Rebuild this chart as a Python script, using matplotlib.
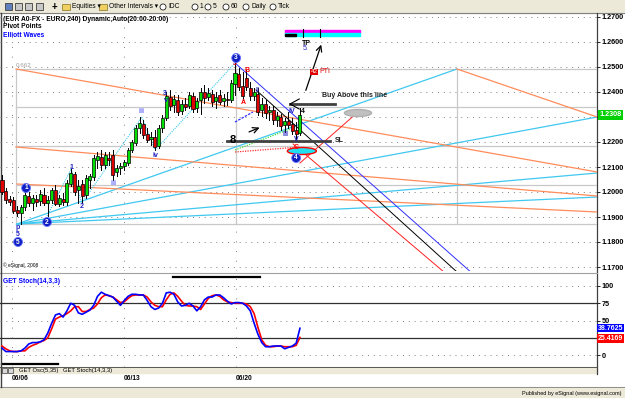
#!/usr/bin/env python3
"""
EUR A0-FX 240 min chart with pivot fans, Elliott wave labels and GET Stoch panel.
Menjalankan: python plot.py  -> out.png
"""
import matplotlib
matplotlib.use("Agg")
import matplotlib.pyplot as plt
from matplotlib.patches import Ellipse, Rectangle, Circle
from matplotlib.transforms import blended_transform_factory

plt.rcParams["font.family"] = ["Liberation Sans", "DejaVu Sans"]

W, H = 625, 398

# ---------------- data ----------------
opens = [1.2048, 1.2004, 1.1972, 1.1968, 1.1928, 1.1916, 1.1940, 1.1984, 1.1956, 1.1972,
         1.1964, 1.1988, 1.1956, 1.1968, 1.2008, 1.1952, 1.1972, 1.1960, 1.2032, 1.2072,
         1.2008, 1.2032, 1.1988, 1.2048, 1.2060, 1.2128, 1.2140, 1.2108, 1.2136, 1.2148,
         1.2080, 1.2096, 1.2104, 1.2116, 1.2168, 1.2196, 1.2256, 1.2272, 1.2232, 1.2212,
         1.2220, 1.2184, 1.2256, 1.2296, 1.2380, 1.2348, 1.2368, 1.2324, 1.2352, 1.2344,
         1.2384, 1.2336, 1.2368, 1.2400, 1.2380, 1.2392, 1.2364, 1.2388, 1.2364, 1.2372,
         1.2368, 1.2432, 1.2472, 1.2424, 1.2456, 1.2416, 1.2384, 1.2392, 1.2328, 1.2352,
         1.2320, 1.2328, 1.2288, 1.2300, 1.2268, 1.2284, 1.2272, 1.2248, 1.2236]
highs = [1.2068, 1.2016, 1.1984, 1.1980, 1.1944, 1.1948, 1.2008, 1.2000, 1.1988, 1.1988,
         1.2008, 1.2016, 1.1984, 1.2016, 1.2028, 1.1988, 1.1996, 1.2048, 1.2092, 1.2080,
         1.2048, 1.2048, 1.2068, 1.2072, 1.2148, 1.2160, 1.2168, 1.2160, 1.2160, 1.2168,
         1.2108, 1.2116, 1.2128, 1.2176, 1.2208, 1.2268, 1.2300, 1.2288, 1.2256, 1.2240,
         1.2248, 1.2268, 1.2308, 1.2400, 1.2408, 1.2388, 1.2388, 1.2368, 1.2376, 1.2400,
         1.2396, 1.2376, 1.2416, 1.2428, 1.2416, 1.2408, 1.2400, 1.2408, 1.2392, 1.2400,
         1.2448, 1.2516, 1.2496, 1.2480, 1.2488, 1.2440, 1.2416, 1.2416, 1.2376, 1.2368,
         1.2344, 1.2344, 1.2320, 1.2312, 1.2296, 1.2320, 1.2296, 1.2280, 1.2336]
lows = [1.1992, 1.1956, 1.1948, 1.1916, 1.1904, 1.1872, 1.1928, 1.1944, 1.1928, 1.1944,
        1.1948, 1.1948, 1.1904, 1.1956, 1.1948, 1.1944, 1.1948, 1.1948, 1.2024, 1.1988,
        1.1956, 1.1956, 1.1976, 1.2016, 1.2048, 1.2096, 1.2088, 1.2096, 1.2108, 1.2048,
        1.2064, 1.2072, 1.2088, 1.2108, 1.2160, 1.2188, 1.2236, 1.2216, 1.2200, 1.2188,
        1.2168, 1.2176, 1.2240, 1.2288, 1.2328, 1.2320, 1.2308, 1.2312, 1.2328, 1.2336,
        1.2320, 1.2320, 1.2312, 1.2356, 1.2368, 1.2344, 1.2336, 1.2352, 1.2344, 1.2348,
        1.2360, 1.2388, 1.2408, 1.2368, 1.2408, 1.2368, 1.2368, 1.2308, 1.2304, 1.2296,
        1.2288, 1.2272, 1.2264, 1.2248, 1.2240, 1.2256, 1.2232, 1.2208, 1.2228]
closes = [1.2000, 1.1968, 1.1960, 1.1924, 1.1916, 1.1940, 1.1988, 1.1956, 1.1976, 1.1960,
          1.1992, 1.1956, 1.1968, 1.2008, 1.1952, 1.1976, 1.1960, 1.2036, 1.2076, 1.2000,
          1.2024, 1.1984, 1.2056, 1.2064, 1.2136, 1.2144, 1.2108, 1.2148, 1.2128, 1.2068,
          1.2096, 1.2104, 1.2120, 1.2168, 1.2200, 1.2256, 1.2276, 1.2228, 1.2208, 1.2220,
          1.2180, 1.2256, 1.2296, 1.2384, 1.2344, 1.2372, 1.2320, 1.2352, 1.2340, 1.2388,
          1.2332, 1.2364, 1.2400, 1.2376, 1.2396, 1.2360, 1.2380, 1.2360, 1.2376, 1.2368,
          1.2436, 1.2476, 1.2420, 1.2384, 1.2420, 1.2384, 1.2400, 1.2320, 1.2352, 1.2316,
          1.2328, 1.2288, 1.2304, 1.2264, 1.2284, 1.2268, 1.2244, 1.2232, 1.2308]

stoch_k = [10, 5, 5, 5, 5, 6, 10, 16, 18, 18, 19, 22, 32, 46, 58, 60, 55, 64, 75, 72,
           61, 59, 62, 65, 72, 85, 91, 88, 86, 84, 78, 72, 79, 85, 88, 88, 87, 87, 79, 70,
           66, 68, 75, 90, 91, 88, 77, 71, 72, 75, 71, 64, 70, 80, 84, 84, 87, 87, 83, 78,
           74, 76, 76, 75, 71, 64, 46, 30, 18, 12, 12, 13, 13, 13, 9, 11, 13, 17, 38.76]
stoch_d = [13, 9, 6, 5, 5, 6, 6, 11, 14, 16, 19, 21, 25, 38, 52, 55, 57, 60, 64, 70,
           70, 63, 63, 66, 68, 74, 83, 87, 86, 84, 80, 76, 77, 82, 86, 87, 87, 87, 84, 77,
           72, 70, 70, 80, 88, 90, 85, 78, 72, 71, 71, 70, 66, 74, 82, 86, 87, 85, 80, 77,
           76, 75, 75, 75, 74, 70, 60, 40, 22, 14, 12, 12, 13, 13, 12, 12, 12, 14, 25.42]

price_ticks = [1.27, 1.26, 1.25, 1.24, 1.23, 1.22, 1.21, 1.20, 1.19, 1.18, 1.17]
last_price = 1.2308
stoch_last = [38.7625, 25.4169]
pivot_levels = [1.2492, 1.2340, 1.2184, 1.2028, 1.1872]
pivot_bars = [3.66, 61.3, 119.1]
date_bars = [2.6, 32.0, 61.3]
date_labels = ["06/06", "06/13", "06/20"]

# pivot fan lines: (bar0, price0, bar1, price1)
cyan_lines = [(3.93, 1.1872, 119.1, 1.2492), (3.93, 1.1872, 155.8, 1.2300),
              (3.93, 1.1872, 155.8, 1.2076), (3.93, 1.1872, 155.8, 1.1980)]
orange_lines = [(3.66, 1.2492, 155.8, 1.2080), (119.1, 1.2492, 155.8, 1.2300),
                (3.66, 1.2180, 155.8, 1.1984), (3.93, 1.2032, 155.8, 1.1920)]
channel_lines = [("#3030FF", 61.0, 1.2516, 123.0, 1.1676),
                 ("#000000", 66.5, 1.2408, 119.4, 1.1676),
                 ("#FF2020", 76.2, 1.2192, 116.0, 1.1676),
                 ("#FF2020", 78.0, 1.2116, 92.9, 1.2316)]

# wave labels: (text, color, bar, price)
wave_text = [("p", "#2020C0", 4.2, 1.1858), ("5", "#2020C0", 4.2, 1.1830),
             ("1", "#2020C0", 18.1, 1.2096), ("2", "#2020C0", 20.9, 1.1940),
             ("iii", "#6060FF", 29.1, 1.2034), ("iv", "#2020C0", 40.1, 1.2146),
             ("iii", "#6060FF", 36.6, 1.2320), ("3", "#2020C0", 42.7, 1.2392),
             ("v", "#2020C0", 43.0, 1.2366), ("5", "#FF0000", 61.0, 1.2512),
             ("A", "#FF0000", 63.1, 1.2356), ("B", "#FF0000", 64.1, 1.2488),
             ("II", "#2020C0", 66.8, 1.2408), ("III", "#2020C0", 74.1, 1.2228),
             ("IV", "#2020C0", 75.9, 1.2322), ("V", "#2020C0", 77.0, 1.2210),
             ("C", "#FF0000", 77.0, 1.2178), ("4", "#000000", 78.8, 1.2322)]
wave_circles = [("1", 6.3, 1.2016), ("2", 11.8, 1.1880), ("3", 61.3, 1.2536),
                ("4", 77.0, 1.2136), ("5", 4.2, 1.1800)]

# ---------------- layout helpers ----------------
def rect(x0, y0, x1, y1):
    return [x0 / W, 1 - y1 / H, (x1 - x0) / W, (y1 - y0) / H]


BAR_PX, BAR_X0 = 3.82, 2.0
XLIM = ((0 - BAR_X0) / BAR_PX, (597 - BAR_X0) / BAR_PX)

fig = plt.figure(figsize=(W / 100, H / 100), dpi=100)
fig.patch.set_facecolor("white")

# chrome (toolbar, tabs, status bar) in pixel coordinates
bg = fig.add_axes([0, 0, 1, 1])
bg.set_xlim(0, W)
bg.set_ylim(H, 0)
bg.axis("off")
bg.add_patch(Rectangle((0, 0), W, 13, color="#ECE9D8", zorder=0))
bg.plot([0, W], [13, 13], color="#808080", lw=0.8)
for xi, fc in zip([5, 15, 25, 36], ["#6080C0", "#C8C8C8", "#C8C8C8", "#C8C8C8"]):
    bg.add_patch(Rectangle((xi, 3), 7, 7, fc=fc, ec="#404040", lw=0.6))
bg.text(54, 7, "+", fontsize=7, weight="bold", va="center", ha="center")
tb_items = [(66, "Equities \u25BE"), (103, "Other Intervals \u25BE")]
for xi, label in tb_items:
    bg.add_patch(Rectangle((xi - 4, 4), 8, 6, fc="#F0D060", ec="#807020", lw=0.5))
    bg.text(xi + 6, 7, label, fontsize=4.8, va="center")
for xi, label in [(163, "IDC"), (195, "1"), (208, "5"), (226, "60"), (246, "Daily"), (273, "Tick")]:
    bg.add_patch(Circle((xi, 7), 3, fc="white", ec="#202020", lw=0.6))
    bg.text(xi + 5, 7, label, fontsize=4.8, va="center")
bg.add_patch(Rectangle((0, 367), 597, 6, color="#ECE9D8", zorder=0))
bg.plot([0, 597], [367, 367], color="#404040", lw=0.6)
bg.plot([2, 58], [364, 364], color="black", lw=1.6)
bg.plot([173, 260], [277, 277], color="black", lw=1.6)
for xi in [2, 8]:
    bg.add_patch(Rectangle((xi, 367.5), 5, 5, fc="#D8D8D8", ec="#404040", lw=0.5))
bg.text(19, 370.5, "GET Osc(5,35)", fontsize=4.2, va="center")
bg.text(63, 370.5, "GET Stoch(14,3,3)", fontsize=4.2, va="center")
bg.add_patch(Rectangle((0, 387), W, 11, color="#ECE9D8", zorder=0))
bg.plot([0, W], [387, 387], color="#808080", lw=0.6)
bg.text(621, 393, "Published by eSignal (www.esignal.com)", fontsize=4, ha="right", va="center")
bg.plot([597, 597], [13, 374], color="#404040", lw=0.9)
bg.plot([0, 597], [273, 273], color="#A0A0A0", lw=0.8)
bg.plot([0.5, 0.5], [13, 387], color="#404040", lw=1)

# ---------------- price panel ----------------
ax = fig.add_axes(rect(0, 13, 597, 271))
ax.set_xlim(*XLIM)
ax.set_ylim(1.2768 - 0.0004 * 271, 1.2768 - 0.0004 * 13)
ax.patch.set_alpha(0)
for s in ax.spines.values():
    s.set_visible(False)
ax.set_xticks([])
ax.yaxis.tick_right()
ax.set_yticks(price_ticks)
# the 1.2300 label is covered by the last-price box
ax.set_yticklabels(["" if abs(v - last_price) < 0.002 else f"{v:.4f}" for v in price_ticks],
                   fontsize=5.2, weight="bold")
ax.tick_params(axis="y", length=2, pad=1.5, width=0.6)

for p in price_ticks:
    ax.axhline(p, color="#808080", lw=0.7, ls=(0, (1, 5)), zorder=1)
for b in date_bars:
    ax.axvline(b, color="#808080", lw=0.7, ls=(0, (1, 9)), zorder=1)
for p in pivot_levels:
    ax.plot([pivot_bars[0], XLIM[1]], [p, p], color="#C8C8C8", lw=0.9, zorder=1)
for b in pivot_bars:
    ax.plot([b, b], [pivot_levels[-1], pivot_levels[0]], color="#C8C8C8", lw=0.9, zorder=1)
ax.text(pivot_bars[0], pivot_levels[0] + 0.0006, "0.662", fontsize=4.5, color="#A0A0A0")

for b0, p0, b1, p1 in cyan_lines:
    ax.plot([b0, b1], [p0, p1], color="#40C8F0", lw=0.9, zorder=2)
for b0, p0, b1, p1 in orange_lines:
    ax.plot([b0, b1], [p0, p1], color="#FF8C5A", lw=0.9, zorder=2)
for c, b0, p0, b1, p1 in channel_lines:
    ax.plot([b0, b1], [p0, p1], color=c, lw=0.7, zorder=2)

# Elliott wave dotted connectors
ax.plot([11.8, 18.1, 20.9, 36.6, 40.1, 61.0], [1.1904, 1.2092, 1.1956, 1.2300, 1.2168, 1.2516],
        color="#40C8F0", lw=0.8, ls=(0, (1, 1)), zorder=2)
ax.plot([61.0, 75.4], [1.2168, 1.2252], color="#40E040", lw=0.9, ls=(0, (1, 1)), zorder=2)
ax.plot([61.0, 78.0], [1.2160, 1.2180], color="#FF3030", lw=0.9, ls=(0, (1, 1)), zorder=2)
ax.plot([61.0, 65.7], [1.2280, 1.2320], color="#3030FF", lw=0.9, ls=(0, (2, 1)), zorder=2)

# candles
for i, (o, h, l, c) in enumerate(zip(opens, highs, lows, closes)):
    up = c >= o
    ax.plot([i, i], [l, h], color="black", lw=0.7, zorder=3)
    ax.add_patch(Rectangle((i - 0.4, min(o, c)), 0.8, max(abs(c - o), 0.0002),
                           fc="#00E000" if up else "#E00000", ec="black", lw=0.5, zorder=4))

# wave markers
for t, c, b, p in wave_text:
    ax.text(b, p, t, color=c, fontsize=5, ha="center", va="center", weight="bold", zorder=6)
for t, b, p in wave_circles:
    ax.add_patch(Ellipse((b, p), 2.3, 0.0036, fc="#1020C0", ec="#6070FF", lw=0.6, zorder=6))
    ax.text(b, p, t, color="white", fontsize=4.8, ha="center", va="center", weight="bold", zorder=7)

# trade annotations
ax.plot([75.4, 87.2], [1.2352, 1.2352], color="#404040", lw=2, zorder=5)
ax.plot([77.8, 75.4, 77.8], [1.2372, 1.2352, 1.2332], color="black", lw=0.8, zorder=5)
ax.text(83.8, 1.2378, "Buy Above this line", fontsize=5, weight="bold", color="#202020", zorder=6)
ax.plot([58.9, 85.9], [1.2204, 1.2204], color="#404040", lw=2, zorder=5)
ax.text(87.2, 1.2206, "SL", fontsize=5, weight="bold", color="#202020", va="center", zorder=6)
ax.text(60.4, 1.2208, "8", fontsize=8, weight="bold", color="black", ha="center", va="center", zorder=6)
ax.annotate("", xy=(68.1, 1.2262), xytext=(64.0, 1.2236),
            arrowprops=dict(arrowstyle="->", lw=0.9, color="black"), zorder=6)
ax.annotate("", xy=(83.8, 1.2600), xytext=(79.3, 1.2396),
            arrowprops=dict(arrowstyle="->", lw=0.9, color="black"), zorder=6)
ax.text(79.6, 1.2594, "TP", fontsize=5, weight="bold", ha="center", va="center", zorder=6)
ax.text(79.6, 1.2572, "5.", fontsize=5, color="#2020C0", ha="center", va="center", zorder=6)
ax.text(81.7, 1.2480, "42", fontsize=4.5, color="white", ha="center", va="center",
        bbox=dict(boxstyle="square,pad=0.1", fc="#E00000", ec="none"), zorder=6)
ax.text(83.0, 1.2480, "PTI", fontsize=5, color="#E00000", va="center", zorder=6)

ax.add_patch(Rectangle((74.1, 1.2636), 19.6, 0.0012, color="#FF00FF", zorder=5))
ax.add_patch(Rectangle((74.1, 1.2624), 19.6, 0.0012, color="#00FFFF", zorder=5))
ax.add_patch(Rectangle((74.1, 1.2626), 2.9, 0.0008, color="black", zorder=6))
for b in [78.8, 83.2]:
    ax.plot([b, b], [1.2620, 1.2652], color="black", lw=0.8, zorder=6)

ax.add_patch(Ellipse((93.2, 1.2316), 7.1, 0.0028, fc="#C0C0C0", ec="#B0B0B0", zorder=5))
ax.add_patch(Ellipse((78.5, 1.2164), 7.6, 0.0028, fc="#20E0F0", ec="#FF0000", lw=1, zorder=5))

tr = blended_transform_factory(ax.transAxes, ax.transData)
ax.text(1.004, last_price, f"{last_price:.4f}", transform=tr, fontsize=5.2, weight="bold",
        color="white", va="center", bbox=dict(boxstyle="square,pad=0.15", fc="#00D000", ec="none"))

ax.text(0.005, 0.99, "(EUR A0-FX - EURO,240) Dynamic,Auto(20:00-20:00)", transform=ax.transAxes,
        fontsize=4.8, weight="bold", va="top")
ax.text(0.005, 0.96, "Pivot Points", transform=ax.transAxes, fontsize=4.8, weight="bold", va="top")
ax.text(0.005, 0.925, "Elliott Waves", transform=ax.transAxes, fontsize=4.8, weight="bold",
        color="#0000FF", va="top")
ax.text(0.005, 0.01, "\u00a9 eSignal, 2008", transform=ax.transAxes, fontsize=3.5, va="bottom")

# ---------------- stoch panel ----------------
sx = fig.add_axes(rect(0, 275, 597, 367))
sx.set_xlim(*XLIM)
sx.set_ylim((355 - 367) / 0.69, (355 - 275) / 0.69)
sx.patch.set_alpha(0)
for s in sx.spines.values():
    s.set_visible(False)
sx.set_xticks([])
sx.yaxis.tick_right()
sx.set_yticks([100, 75, 50, 0])
sx.set_yticklabels(["100", "75", "50", "0"], fontsize=5.2, weight="bold")
sx.tick_params(axis="y", length=2, pad=1.5, width=0.6)
for v in [100, 50, 0]:
    sx.axhline(v, color="#808080", lw=0.7, ls=(0, (1, 5)))
for v in [75, 25]:
    sx.axhline(v, color="#303030", lw=0.9)
for b in date_bars:
    sx.axvline(b, color="#808080", lw=0.7, ls=(0, (1, 9)))
sx.plot(range(len(stoch_d)), stoch_d, color="#FF0000", lw=1.2)
sx.plot(range(len(stoch_k)), stoch_k, color="#0000FF", lw=1.2)
tr2 = blended_transform_factory(sx.transAxes, sx.transData)
sx.text(1.002, stoch_last[0], f"{stoch_last[0]:.4f}", transform=tr2, fontsize=5, weight="bold",
        color="white", va="center", bbox=dict(boxstyle="square,pad=0.1", fc="#0000FF", ec="none"))
sx.text(1.002, stoch_last[1] - 1.5, f"{stoch_last[1]:.4f}", transform=tr2, fontsize=5, weight="bold",
        color="white", va="center", bbox=dict(boxstyle="square,pad=0.1", fc="#FF0000", ec="none"))
sx.text(0.005, 0.97, "GET Stoch(14,3,3)", transform=sx.transAxes, fontsize=4.8, weight="bold",
        color="#0000FF", va="top")

# date labels
for b, lab in zip(date_bars, date_labels):
    bg.text(BAR_X0 + BAR_PX * b, 379, lab, fontsize=4.8, weight="bold", va="center")

fig.savefig("out.png", dpi=100, facecolor="white")
